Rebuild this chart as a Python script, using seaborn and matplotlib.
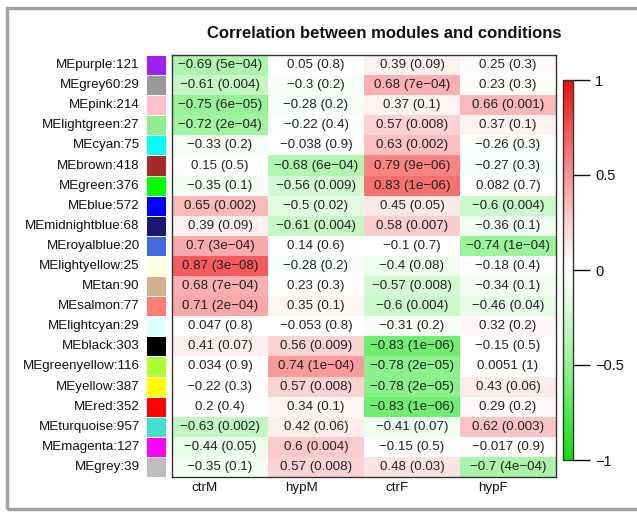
import numpy as np
import pandas as pd
import matplotlib
matplotlib.use("Agg")
import matplotlib.pyplot as plt
import seaborn as sns
from matplotlib.colors import ListedColormap, Normalize
from matplotlib.cm import ScalarMappable
from matplotlib.patches import Rectangle
from matplotlib.transforms import ScaledTranslation

# ---------------- data ----------------
modules = ["MEpurple:121", "MEgrey60:29", "MEpink:214", "MElightgreen:27", "MEcyan:75",
           "MEbrown:418", "MEgreen:376", "MEblue:572", "MEmidnightblue:68", "MEroyalblue:20",
           "MElightyellow:25", "MEtan:90", "MEsalmon:77", "MElightcyan:29", "MEblack:303",
           "MEgreenyellow:116", "MEyellow:387", "MEred:352", "MEturquoise:957",
           "MEmagenta:127", "MEgrey:39"]
module_colors = ["#A020F0", "#999999", "#FFC0CB", "#90EE90", "#00FFFF",
                 "#A52A2A", "#00FF00", "#0000FF", "#191970", "#4169E1",
                 "#FFFFE0", "#D2B48C", "#FA8072", "#E0FFFF", "#000000",
                 "#ADFF2F", "#FFFF00", "#FF0000", "#40E0D0", "#FF00FF", "#BEBEBE"]
conditions = ["ctrM", "hypM", "ctrF", "hypF"]

cor_ctrM = [-0.69, -0.61, -0.75, -0.72, -0.33, 0.15, -0.35, 0.65, 0.39, 0.7, 0.87,
            0.68, 0.71, 0.047, 0.41, 0.034, -0.22, 0.2, -0.63, -0.44, -0.35]
p_ctrM = ["5e-04", "0.004", "6e-05", "2e-04", "0.2", "0.5", "0.1", "0.002", "0.09", "3e-04", "3e-08",
          "7e-04", "2e-04", "0.8", "0.07", "0.9", "0.3", "0.4", "0.002", "0.05", "0.1"]
cor_hypM = [0.05, -0.3, -0.28, -0.22, -0.038, -0.68, -0.56, -0.5, -0.61, 0.14, -0.28,
            0.23, 0.35, -0.053, 0.56, 0.74, 0.57, 0.34, 0.42, 0.6, 0.57]
p_hypM = ["0.8", "0.2", "0.2", "0.4", "0.9", "6e-04", "0.009", "0.02", "0.004", "0.6", "0.2",
          "0.3", "0.1", "0.8", "0.009", "1e-04", "0.008", "0.1", "0.06", "0.004", "0.008"]
cor_ctrF = [0.39, 0.68, 0.37, 0.57, 0.63, 0.79, 0.83, 0.45, 0.58, -0.1, -0.4,
            -0.57, -0.6, -0.31, -0.83, -0.78, -0.78, -0.83, -0.41, -0.15, 0.48]
p_ctrF = ["0.09", "7e-04", "0.1", "0.008", "0.002", "9e-06", "1e-06", "0.05", "0.007", "0.7", "0.08",
          "0.008", "0.004", "0.2", "1e-06", "2e-05", "2e-05", "1e-06", "0.07", "0.5", "0.03"]
cor_hypF = [0.25, 0.23, 0.66, 0.37, -0.26, -0.27, 0.082, -0.6, -0.36, -0.74, -0.18,
            -0.34, -0.46, 0.32, -0.15, 0.0051, 0.43, 0.29, 0.62, -0.017, -0.7]
p_hypF = ["0.3", "0.3", "0.001", "0.1", "0.3", "0.3", "0.7", "0.004", "0.1", "1e-04", "0.4",
          "0.1", "0.04", "0.2", "0.5", "1", "0.06", "0.2", "0.003", "0.9", "4e-04"]

title = "Correlation between modules and conditions"
cbar_ticks = [-1, -0.5, 0, 0.5, 1]

# ---------------- tables ----------------
cor_df = pd.DataFrame({"ctrM": cor_ctrM, "hypM": cor_hypM, "ctrF": cor_ctrF, "hypF": cor_hypF},
                      index=modules)[conditions]
p_df = pd.DataFrame({"ctrM": p_ctrM, "hypM": p_hypM, "ctrF": p_ctrF, "hypF": p_hypF},
                    index=modules)[conditions]

MINUS = "\u2212"


def fmt_num(v):
    return f"{v:g}".replace("-", MINUS)


annot = np.empty(cor_df.shape, dtype=object)
for i in range(cor_df.shape[0]):
    for j in range(cor_df.shape[1]):
        annot[i, j] = f"{fmt_num(cor_df.iat[i, j])} ({p_df.iat[i, j].replace('-', MINUS)})"

# ---------------- colormaps ----------------
green_end = np.array([10, 225, 10]) / 255
red_end = np.array([240, 10, 10]) / 255
white = np.array([1.0, 1.0, 1.0])


def build_cmap(power, n=256):
    cols = []
    for v in np.linspace(-1, 1, n):
        s = abs(v) ** power
        end = red_end if v > 0 else green_end
        cols.append(white * (1 - s) + end * s)
    return ListedColormap(cols)


cell_cmap = build_cmap(3.0)
bar_cmap = build_cmap(1.2)

# ---------------- figure ----------------
sns.set_style("white")
plt.rcParams["font.family"] = ["Liberation Sans", "DejaVu Sans"]

W, H = 637, 514
fig = plt.figure(figsize=(W / 100, H / 100), dpi=100)
fig.patch.set_facecolor("white")


def fx(px):
    return px / W


def fy(py):
    return 1 - py / H


top_px, bot_px = 55, 477
ax = fig.add_axes([fx(172), fy(bot_px), fx(556) - fx(172), fy(top_px) - fy(bot_px)])
sns.heatmap(cor_df, ax=ax, cmap=cell_cmap, vmin=-1, vmax=1, annot=annot, fmt="",
            cbar=False, annot_kws=dict(fontsize=9.6, color="#222222"))
for sp in ax.spines.values():
    sp.set_visible(True)
    sp.set_linewidth(1.0)
    sp.set_color("#333333")
ax.set_yticks([])
ax.set_ylabel("")
ax.tick_params(axis="x", length=0, pad=3.5, labelsize=9.6, colors="#111111")
ax.set_xticklabels(conditions, rotation=0)
off = ScaledTranslation(-15 / 100, 0, fig.dpi_scale_trans)
for lab in ax.get_xticklabels():
    lab.set_transform(lab.get_transform() + off)

# module colour squares
sq = fig.add_axes([fx(146), fy(bot_px), fx(166) - fx(146), fy(top_px) - fy(bot_px)])
idx_df = pd.DataFrame({"c": np.arange(len(modules))}, index=modules)
sns.heatmap(idx_df, ax=sq, cmap=ListedColormap(module_colors), vmin=-0.5,
            vmax=len(modules) - 0.5, cbar=False, xticklabels=False, yticklabels=True,
            linewidths=0.6, linecolor="white")
sq.set_ylabel("")
sq.tick_params(axis="y", length=0, pad=4.5, labelsize=9.6, colors="#111111")
for lab in sq.get_yticklabels():
    lab.set_rotation(0)

# colour bar
cax = fig.add_axes([fx(563), fy(460), fx(573) - fx(563), fy(80) - fy(460)])
sm = ScalarMappable(norm=Normalize(vmin=-1, vmax=1), cmap=bar_cmap)
cb = fig.colorbar(sm, cax=cax, ticks=cbar_ticks)
cb.ax.set_yticklabels([fmt_num(t) for t in cbar_ticks])
cb.ax.tick_params(length=12, width=1.0, pad=4, labelsize=10.5, colors="#111111")
cb.outline.set_linewidth(1.0)
cb.outline.set_edgecolor("#333333")

# title
fig.text(fx(384), fy(33), title, ha="center", va="center", fontsize=12,
         fontweight="bold", color="#111111")

# outer grey frame
fig.patches.append(Rectangle((fx(7), fy(509)), 1.2, fy(8) - fy(509), transform=fig.transFigure,
                             fill=False, edgecolor="#a0a0a0", linewidth=2.4))

fig.savefig("out.png", dpi=100)
